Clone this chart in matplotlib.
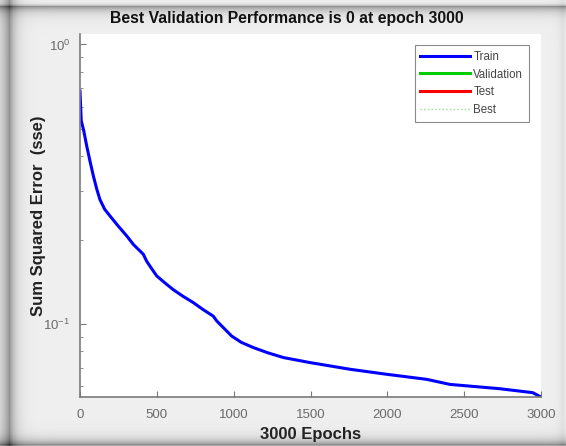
import numpy as np
import matplotlib
matplotlib.use("Agg")
import matplotlib.pyplot as plt

# ---- data ----
epochs = [0, 8, 25, 44, 65, 87, 110, 130, 160, 195, 250, 304, 347, 412, 434, 470,
          499, 550, 607, 670, 737, 800, 867, 890, 955, 987, 1050, 1128, 1220, 1323,
          1497, 1757, 1996, 2256, 2408, 2729, 2946, 3000]
train_sse = [0.681, 0.535, 0.49, 0.433, 0.383, 0.339, 0.303, 0.279, 0.258, 0.244,
             0.224, 0.207, 0.193, 0.178, 0.168, 0.157, 0.149, 0.141, 0.133, 0.126,
             0.1196, 0.113, 0.107, 0.1028, 0.0946, 0.0908, 0.0862, 0.0826, 0.0792,
             0.0761, 0.0730, 0.0691, 0.0663, 0.0636, 0.0610, 0.0589, 0.0570, 0.0550]
x_ticks = [0, 500, 1000, 1500, 2000, 2500, 3000]
title = "Best Validation Performance is 0 at epoch 3000"
xlabel = "3000 Epochs"
ylabel = "Sum Squared Error  (sse)"
legend_labels = ["Train", "Validation", "Test", "Best"]

plt.rcParams['font.family'] = ['Liberation Sans', 'DejaVu Sans']

W, H = 566, 446
fig = plt.figure(figsize=(W / 100, H / 100), dpi=100, facecolor='#efefef')

# screenshot-like frame shading (decoration only)
yy, xx = np.mgrid[0:H, 0:W].astype(float)
def prof(d, peak, inner, outer, amount):
    dd = np.clip(d - peak, -50, 50)
    out = np.where(dd >= 0, np.exp(-dd / inner), np.exp(dd / outer))
    return amount * out
dark = (prof(xx, 9, 6, 8, 0.36) + prof(yy, 6, 5, 1.5, 0.36) +
        prof(H - 1 - yy, 1, 5, 5, 0.36) + prof(W - 1 - xx, 3, 4, 4, 0.06))
img = np.clip(0.94 - dark, 0, 1)
rgb = np.dstack([img, img, img])
fig.figimage(rgb, xo=0, yo=0, origin='upper', zorder=-1)

ax = fig.add_axes([80 / W, (H - 397) / H, (541 - 80) / W, (397 - 34) / H])
ax.set_facecolor('white')
ax.plot(epochs, train_sse, color='#0000ff', lw=2.2, label=legend_labels[0])
ax.plot([], [], color='#00cc00', lw=2.2, label=legend_labels[1])
ax.plot([], [], color='#ff0000', lw=2.2, label=legend_labels[2])
ax.plot([], [], color='#99dd99', lw=1.0, ls=':', label=legend_labels[3])

ax.set_yscale('log')
ax.set_xlim(0, 3000)
ax.set_ylim(0.0550, 1.09)
ax.set_xticks(x_ticks)
ax.set_xticklabels([str(t) for t in x_ticks])
for s in ['top', 'right']:
    ax.spines[s].set_visible(False)
for s in ['left', 'bottom']:
    ax.spines[s].set_color('#7a7a7a')
    ax.spines[s].set_linewidth(1.2)
ax.tick_params(which='both', direction='in', colors='#7a7a7a', labelcolor='#6a6a6a',
               labelsize=9.5)
ax.tick_params(which='major', length=4)
ax.tick_params(which='minor', length=2.5)
ax.tick_params(axis='x', pad=9)
ax.tick_params(axis='y', pad=7)

ax.set_xlabel(xlabel, fontsize=12, fontweight='bold', color='#222222', labelpad=4)
ax.set_ylabel(ylabel, fontsize=12, fontweight='bold', color='#222222', labelpad=-2)
fig.text(287 / W, 1 - 19 / H, title, ha='center', va='center', fontsize=11.3,
         fontweight='bold', color='#111111')

leg = ax.legend(loc='upper right', bbox_to_anchor=(529 / W, (H - 45) / H),
                bbox_transform=fig.transFigure, fontsize=8.3, frameon=True,
                fancybox=False, framealpha=1, edgecolor='#8a8a8a',
                handlelength=4.3, labelspacing=0.5, handletextpad=0.3,
                borderpad=0.5, borderaxespad=0)
leg.get_frame().set_linewidth(0.8)
for t in leg.get_texts():
    t.set_color('#444444')

fig.savefig('out.png', dpi=100, facecolor=fig.get_facecolor())
